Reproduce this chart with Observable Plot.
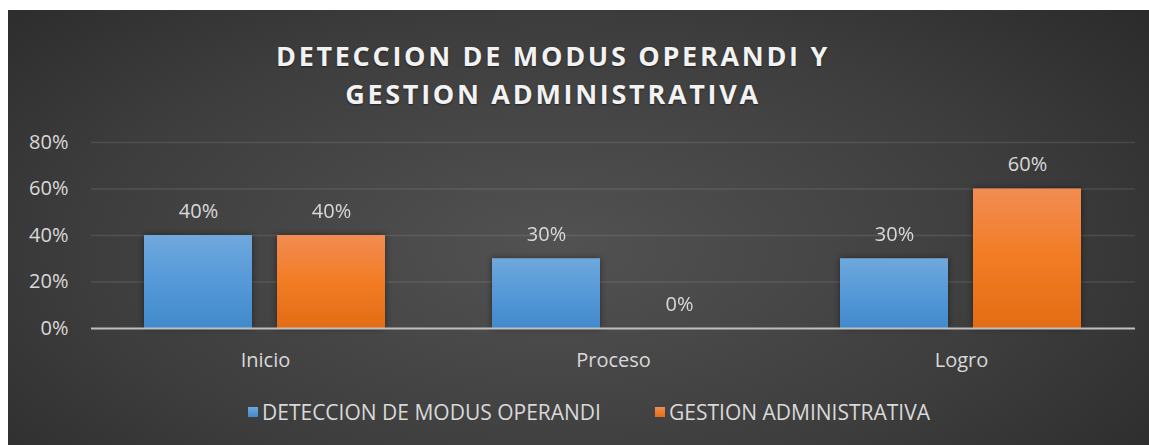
<!DOCTYPE html>
<html>
<head>
<meta charset="utf-8">
<script src="https://cdn.jsdelivr.net/npm/d3@7"></script>
<script src="https://cdn.jsdelivr.net/npm/@observablehq/plot@0.6"></script>
<style>
  html, body { margin: 0; padding: 0; background: #ffffff; width: 1149px; height: 445px; overflow: hidden; }
  #chart {
    position: absolute; left: 8px; top: 10px; width: 1141px; height: 435px;
    background: radial-gradient(ellipse 75% 95% at 48% 55%, #525252 0%, #3d3d3d 55%, #262626 100%);
    font-family: "Open Sans", "Noto Sans", sans-serif;
    overflow: hidden;
  }
  #title {
    position: absolute; left: 0; width: 1090px; top: 27px;
    text-align: center; color: #f2f2f2; font-weight: 700; font-size: 27px;
    letter-spacing: 2.7px; line-height: 38px;
    text-shadow: 0 1px 2px rgba(0,0,0,0.5);
  }
  #plot { position: absolute; left: 0; top: 110px; }
  #legend {
    position: absolute; top: 389px; left: 0; width: 1141px; height: 26px;
    color: #d9d9d9; font-size: 21px;
  }
  .item { position: absolute; top: 0; display: flex; align-items: center; height: 26px; white-space: nowrap; }
  .sw { width: 10px; height: 10px; margin-right: 4px; }
</style>
</head>
<body>
<div id="chart">
  <div id="title"></div>
  <div id="plot"></div>
  <div id="legend"></div>
</div>
<script>
const titleLines = ["DETECCION DE MODUS OPERANDI Y", "GESTION ADMINISTRATIVA"];
const categories = ["Inicio", "Proceso", "Logro"];
const seriesNames = ["DETECCION DE MODUS OPERANDI", "GESTION ADMINISTRATIVA"];
const detectionValues = [0.40, 0.30, 0.30];
const gestionValues = [0.40, 0.00, 0.60];
const yTicks = [0, 0.2, 0.4, 0.6, 0.8];

const data = [];
categories.forEach((c, i) => {
  data.push({category: c, series: seriesNames[0], value: detectionValues[i]});
  data.push({category: c, series: seriesNames[1], value: gestionValues[i]});
});

document.getElementById("title").innerHTML = titleLines.join("<br>");

const defs = () => {
  const ns = "http://www.w3.org/2000/svg";
  const d = document.createElementNS(ns, "defs");
  d.innerHTML = `
    <linearGradient id="gBlue" x1="0" y1="0" x2="0" y2="1">
      <stop offset="0" stop-color="#6fa8dc"/>
      <stop offset="0.5" stop-color="#5599d8"/>
      <stop offset="1" stop-color="#418acc"/>
    </linearGradient>
    <linearGradient id="gOrange" x1="0" y1="0" x2="0" y2="1">
      <stop offset="0" stop-color="#f28c52"/>
      <stop offset="0.5" stop-color="#f27c24"/>
      <stop offset="1" stop-color="#e36c14"/>
    </linearGradient>
    <filter id="shadow" x="-20%" y="-20%" width="140%" height="140%">
      <feDropShadow dx="0" dy="0" stdDeviation="3" flood-color="#000" flood-opacity="0.45"/>
    </filter>`;
  return d;
};

const fmt = d3.format(".0%");

const plot = Plot.plot({
  width: 1141,
  height: 260,
  marginLeft: 82,
  marginRight: 14,
  marginTop: 22,
  marginBottom: 52,
  style: {background: "transparent", color: "#d9d9d9", fontFamily: "'Open Sans', 'Noto Sans', sans-serif", fontSize: "20px", overflow: "visible"},
  fx: {domain: categories, padding: 0, label: null, axis: "bottom", tickSize: 0, tickPadding: 24},
  x: {domain: seriesNames, paddingInner: 0.187, paddingOuter: 0.393, axis: null},
  y: {domain: [0, 0.8], ticks: yTicks, tickFormat: fmt, label: null, axis: null},
  marks: [
    defs,
    Plot.ruleY(yTicks.filter(t => t > 0), {stroke: "#ffffff", strokeOpacity: 0.1, strokeWidth: 1.5}),
    Plot.axisY({ticks: yTicks, tickFormat: fmt, tickSize: 0, tickPadding: 23, label: null, fontSize: 20, anchor: "left"}),
    Plot.barY(data.filter(d => d.series === seriesNames[0]), {fx: "category", x: "series", y: "value", fill: "url(#gBlue)", filter: d => d.value > 0}),
    Plot.barY(data.filter(d => d.series === seriesNames[1]), {fx: "category", x: "series", y: "value", fill: "url(#gOrange)", filter: d => d.value > 0}),
    Plot.ruleY([0], {stroke: "#bfbfbf", strokeWidth: 2}),
    Plot.text(data, {fx: "category", x: "series", y: "value", text: d => fmt(d.value), dy: -24, fill: "#d9d9d9", fontSize: 20})
  ]
});
plot.querySelectorAll("g[aria-label='bar']").forEach(g => g.setAttribute("filter", "url(#shadow)"));
document.getElementById("plot").appendChild(plot);

const legend = document.getElementById("legend");
const legendCss = ["linear-gradient(#6fa8dc, #418acc)", "linear-gradient(#f28c52, #e36c14)"];
const legendLeft = [240, 647];
seriesNames.forEach((s, i) => {
  const it = document.createElement("div");
  it.className = "item";
  it.style.left = legendLeft[i] + "px";
  it.innerHTML = `<div class="sw" style="background:${legendCss[i]}"></div><span>${s}</span>`;
  legend.appendChild(it);
});
</script>
</body>
</html>
